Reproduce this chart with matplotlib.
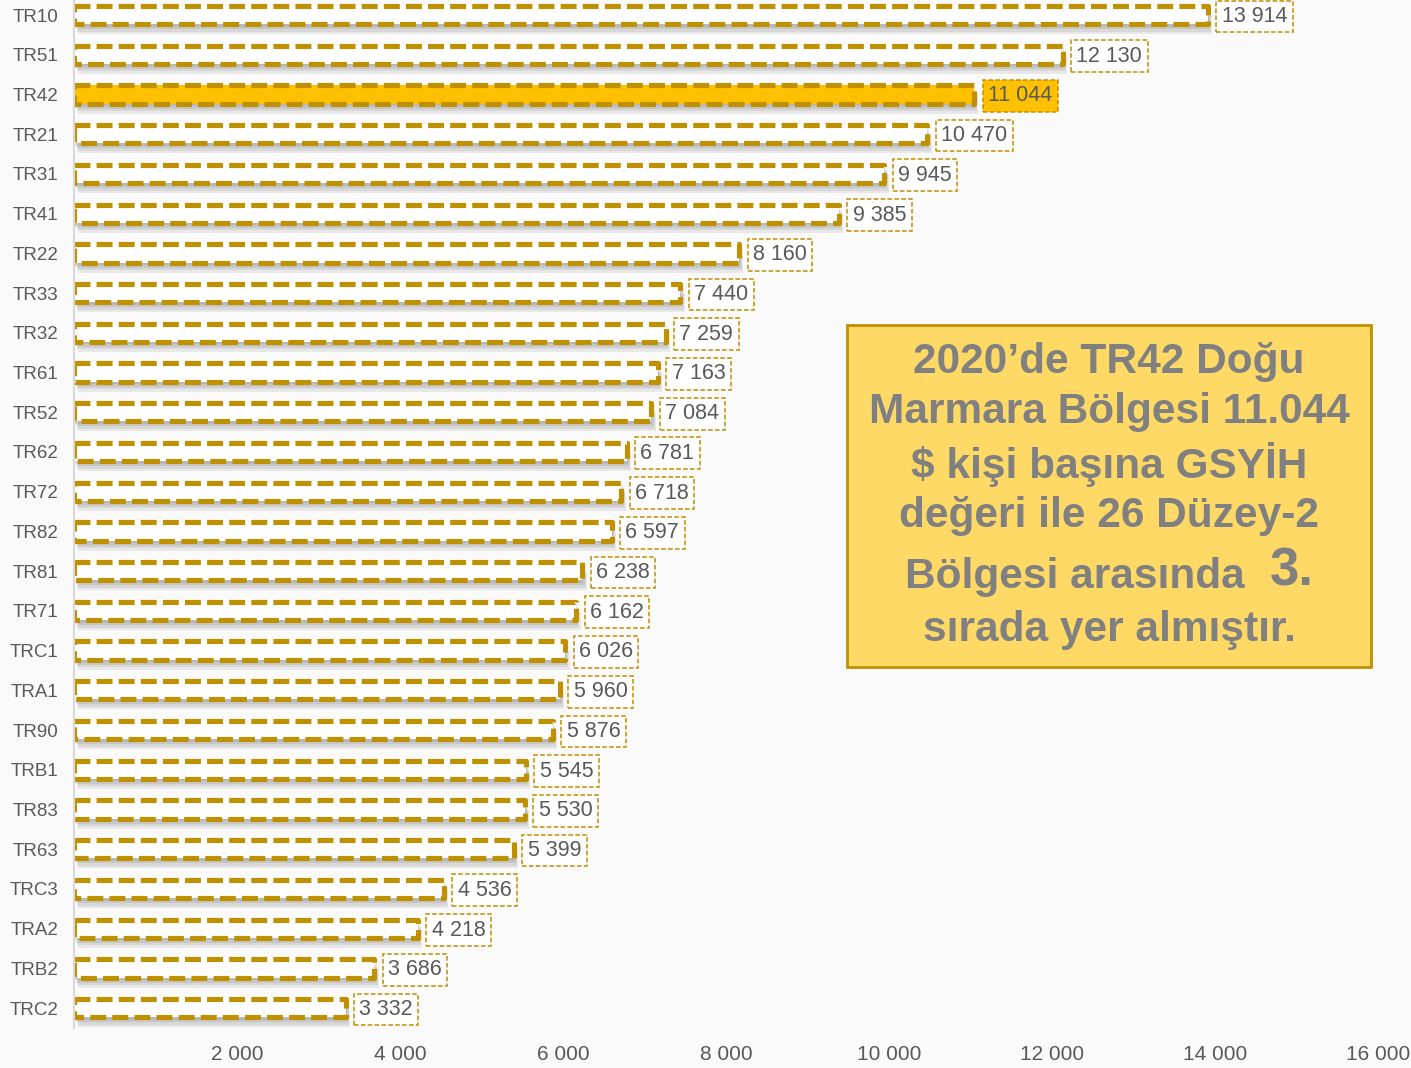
import matplotlib.pyplot as plt
import matplotlib.patheffects as pe

# Kişi başına GSYİH 2020 ($), Düzey-2 bölgeleri
regions = ["TR10", "TR51", "TR42", "TR21", "TR31", "TR41", "TR22", "TR33", "TR32",
           "TR61", "TR52", "TR62", "TR72", "TR82", "TR81", "TR71", "TRC1", "TRA1",
           "TR90", "TRB1", "TR83", "TR63", "TRC3", "TRA2", "TRB2", "TRC2"]
gdp = [13914, 12130, 11044, 10470, 9945, 9385, 8160, 7440, 7259,
       7163, 7084, 6781, 6718, 6597, 6238, 6162, 6026, 5960,
       5876, 5545, 5530, 5399, 4536, 4218, 3686, 3332]
highlight = "TR42"
xticks = [2000, 4000, 6000, 8000, 10000, 12000, 14000, 16000]

gold = "#BF9000"
yellow = "#FFC000"
bg = "#FAFAFA"
grey_txt = "#595959"

plt.rcParams['font.family'] = ['Liberation Sans', 'DejaVu Sans']

fig = plt.figure(figsize=(14.11, 10.68), dpi=100, facecolor=bg)
ax = fig.add_axes([0.0524, 0.0375, 0.9242, 0.967])
ax.set_facecolor(bg)

# soft shadow, a few faint layers
shadow = [pe.SimplePatchShadow(offset=(0.8 * o, -1.8 * o), shadow_rgbFace="#000000", alpha=0.07)
          for o in (4, 3, 2, 1)] + [pe.Normal()]

for i, (r, v) in enumerate(zip(regions, gdp)):
    fc = yellow if r == highlight else "white"
    ax.barh(i, v, height=0.46, color=fc, edgecolor="none", path_effects=shadow, zorder=2)
    ax.barh(i, v, height=0.46, color="none", edgecolor=gold, linewidth=3.7,
            linestyle=(0, (3.1, 1.2)), joinstyle="round", zorder=2.5)
    label = f"{v:,}".replace(",", " ")
    ax.annotate(label, (v, i), xytext=(10, -1), textcoords="offset points",
                ha="left", va="center", fontsize=15.5, color=grey_txt,
                bbox=dict(boxstyle="square,pad=0.25", fc=fc, ec=gold, lw=1.1, ls=(0, (3, 1.5))),
                zorder=3)

ax.set_ylim(len(regions) - 0.5, -0.5)
ax.set_xlim(0, 16000)
ax.set_yticks(range(len(regions)))
ax.set_yticklabels(regions)
ax.set_xticks(xticks)
ax.set_xticklabels([f"{t:,}".replace(",", " ") for t in xticks])
ax.tick_params(axis="y", length=0, pad=11, labelsize=13.5, labelcolor=grey_txt)
ax.tick_params(axis="x", length=0, pad=12, labelsize=15, labelcolor=grey_txt)
for s in ["top", "right", "bottom"]:
    ax.spines[s].set_visible(False)
ax.spines["left"].set_color("#D9D9D9")
ax.spines["left"].set_linewidth(1.5)

# açıklama kutusu
box = plt.Rectangle((0.6003, 0.3755), 0.3714, 0.3202, transform=fig.transFigure,
                    fc="#FFD966", ec=gold, lw=2, zorder=5)
fig.patches.append(box)
lines = ["2020’de TR42 Doğu", "Marmara Bölgesi 11.044", "$ kişi başına GSYİH",
         "değeri ile 26 Düzey-2"]
ys = [362, 412, 464, 516]
for t, y in zip(lines, ys):
    fig.text(1109 / 1411, 1 - y / 1068, t, ha="center", va="center", fontsize=30.5,
             fontweight="bold", color="#808080", zorder=6)
fig.text(1075 / 1411, 1 - 577 / 1068, "Bölgesi arasında", ha="center", va="center",
         fontsize=30.5, fontweight="bold", color="#808080", zorder=6)
fig.text(1292 / 1411, 1 - 572 / 1068, "3.", ha="center", va="center",
         fontsize=38, fontweight="bold", color="#808080", zorder=6)
fig.text(1109 / 1411, 1 - 630 / 1068, "sırada yer almıştır.", ha="center", va="center",
         fontsize=30.5, fontweight="bold", color="#808080", zorder=6)

fig.savefig("out.png", dpi=100, facecolor=bg)
